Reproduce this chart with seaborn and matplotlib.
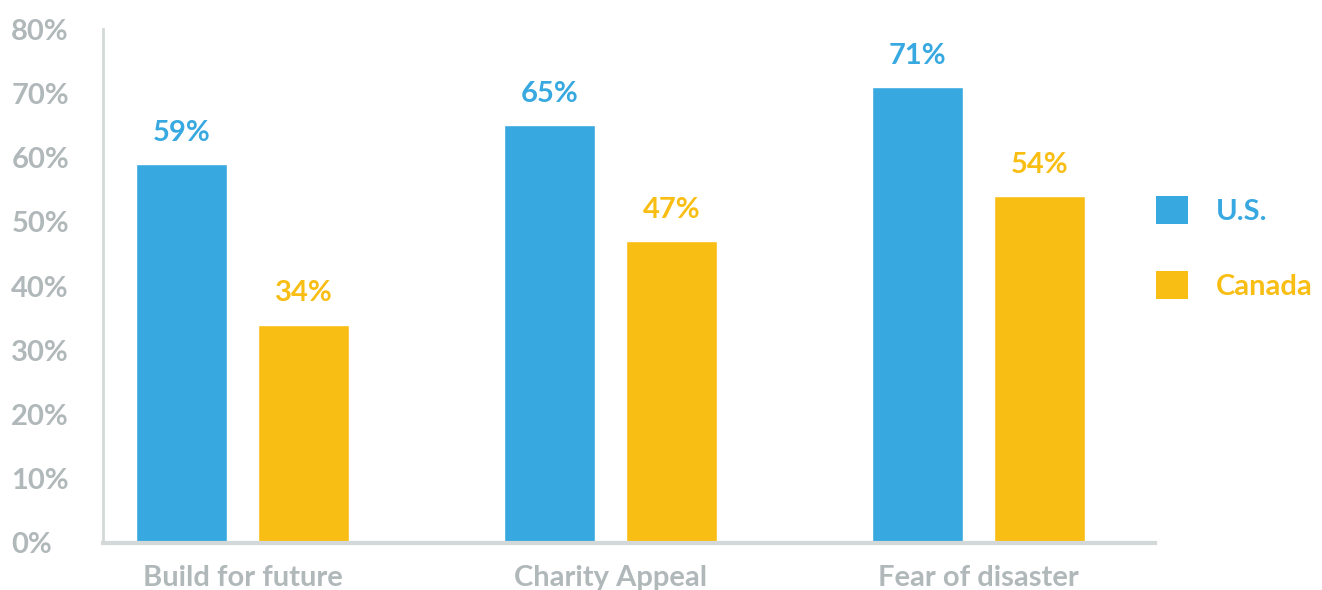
import matplotlib
matplotlib.use("Agg")
import matplotlib.pyplot as plt
import seaborn as sns
import pandas as pd
from matplotlib.patches import Patch

categories = ["Build for future", "Charity Appeal", "Fear of disaster"]
series_names = ["U.S.", "Canada"]
us_values = [59, 65, 71]
canada_values = [34, 47, 54]
y_ticks = [0, 10, 20, 30, 40, 50, 60, 70, 80]
y_tick_labels = [f"{t}%" for t in y_ticks]

BLUE = "#38a9e0"
YELLOW = "#f9be14"
GRAY = "#b1b8ba"
SPINE = "#d3d8d9"

df = pd.DataFrame({
    "category": categories * 2,
    "series": [series_names[0]] * 3 + [series_names[1]] * 3,
    "value": us_values + canada_values,
})

sns.set_theme(style="white")
plt.rcParams["font.family"] = ["Lato", "DejaVu Sans"]
plt.rcParams["font.weight"] = "bold"

fig = plt.figure(figsize=(13.22, 5.9), dpi=100)
ax = fig.add_axes([0.0779, 0.0797, 0.8737 - 0.0779, 0.9508 - 0.0797])

sns.barplot(data=df, x="category", y="value", hue="series",
            palette=[BLUE, YELLOW], width=0.663, gap=0.255,
            saturation=1, legend=False, ax=ax, errorbar=None)

for cont, col in zip(ax.containers, [BLUE, YELLOW]):
    ax.bar_label(cont, labels=[f"{v:.0f}%" for v in cont.datavalues],
                 padding=13, color=col, fontsize=21, fontweight="bold")

ax.set_xlim(-0.379, 2.48)
ax.set_ylim(0, 80)
ax.set_yticks(y_ticks)
ax.set_yticklabels(y_tick_labels)
ax.set_xlabel("")
ax.set_ylabel("")
ax.tick_params(axis="y", colors=GRAY, labelsize=21, length=0, pad=66)
ax.tick_params(axis="x", colors=GRAY, labelsize=21, length=0, pad=16)
for lab in ax.get_yticklabels() + ax.get_xticklabels():
    lab.set_fontweight("bold")
    lab.set_color(GRAY)
for lab in ax.get_yticklabels():
    lab.set_horizontalalignment("left")

ax.spines["top"].set_visible(False)
ax.spines["right"].set_visible(False)
ax.spines["left"].set_color(SPINE)
ax.spines["left"].set_linewidth(2)
ax.spines["bottom"].set_color(SPINE)
ax.spines["bottom"].set_linewidth(3)

handles = [Patch(facecolor=BLUE, edgecolor="none"), Patch(facecolor=YELLOW, edgecolor="none")]
leg = fig.legend(handles, series_names, loc="upper left",
                 bbox_to_anchor=(1144 / 1322, 1 - 184 / 590),
                 frameon=False, fontsize=21, handlelength=1.1, handleheight=1.1,
                 labelspacing=1.6, handletextpad=0.95, borderaxespad=0)
for txt, col in zip(leg.get_texts(), [BLUE, YELLOW]):
    txt.set_color(col)
    txt.set_fontweight("bold")

fig.savefig("out.png", dpi=100)
